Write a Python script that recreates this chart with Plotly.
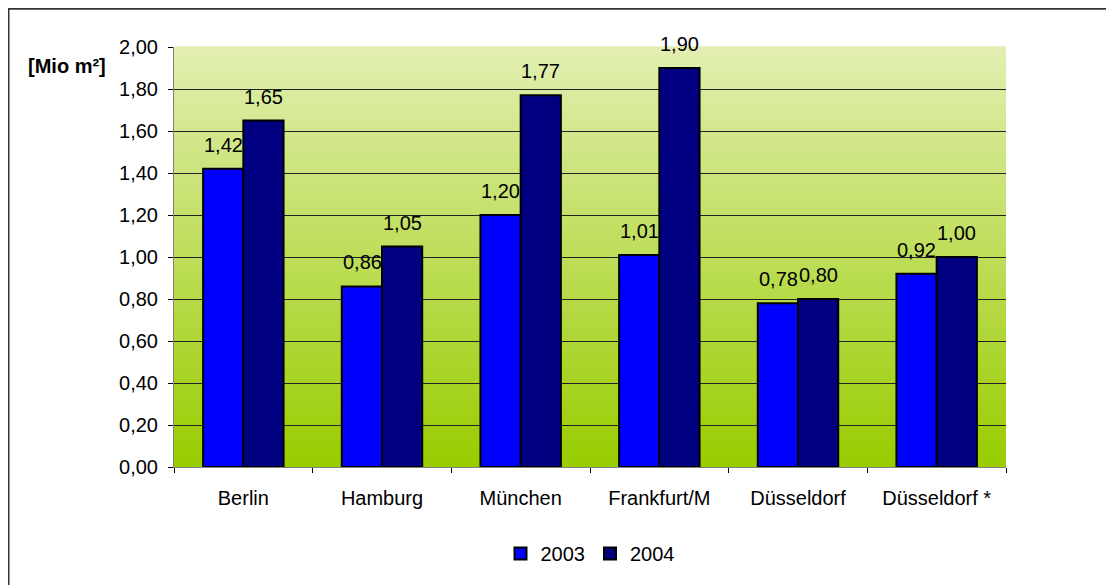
import plotly.graph_objects as go

# Daten
staedte = ['Berlin', 'Hamburg', 'München', 'Frankfurt/M', 'Düsseldorf', 'Düsseldorf *']
werte_2003 = [1.42, 0.86, 1.20, 1.01, 0.78, 0.92]
werte_2004 = [1.65, 1.05, 1.77, 1.90, 0.80, 1.00]
y_ticks = [0.0, 0.2, 0.4, 0.6, 0.8, 1.0, 1.2, 1.4, 1.6, 1.8, 2.0]

# Seite hat 8px Rand -> Figur entsprechend kleiner
W, H = 1106, 577
L, R, T, B = 166, 108, 39, 115
PW, PH = W - L - R, H - T - B
FONT = 'Liberation Sans, Arial, sans-serif'
FS = 20


def px_x(px):
    return (px - L) / PW


def px_y(py):
    return (H - B - py) / PH


fig = go.Figure()
fig.add_trace(go.Bar(x=staedte, y=werte_2003, name='2003',
                     marker=dict(color='#0000FF', line=dict(color='black', width=2))))
fig.add_trace(go.Bar(x=staedte, y=werte_2004, name='2004',
                     marker=dict(color='#000080', line=dict(color='black', width=2))))

# Wertebeschriftungen über den Balken
annots = []
for werte, dx in [(werte_2003, -20), (werte_2004, 20)]:
    for s, v in zip(staedte, werte):
        annots.append(dict(x=s, y=v, xref='x', yref='y', text=f'{v:.2f}'.replace('.', ','),
                           showarrow=False, xshift=dx, yshift=11, yanchor='bottom',
                           font=dict(size=FS, color='black', family=FONT)))

annots.append(dict(x=px_x(59), y=px_y(58), xref='paper', yref='paper', text='<b>[Mio m²]</b>',
                   showarrow=False, xanchor='center', yanchor='middle',
                   font=dict(size=FS, color='black', family=FONT)))

# Verlauf im Plotbereich (hellgrün oben -> grün unten)
shapes = []
top = (226, 239, 178)
bot = (153, 204, 0)
n = 80
for i in range(n):
    t = (i + 0.5) / n
    c = tuple(round(bot[k] + (top[k] - bot[k]) * t) for k in range(3))
    shapes.append(dict(type='rect', xref='paper', yref='paper', x0=0, x1=1,
                       y0=i / n, y1=(i + 1) / n + 0.002, layer='below',
                       fillcolor='rgb(%d,%d,%d)' % c, line=dict(width=0)))

# Rahmen (rechts und unten abgeschnitten)
shapes.append(dict(type='rect', xref='paper', yref='paper', x0=px_x(0.5), x1=px_x(1130),
                   y0=px_y(600), y1=px_y(0.5), line=dict(color='#333333', width=2), layer='above'))

fig.update_layout(
    width=W, height=H,
    margin=dict(l=L, r=R, t=T, b=B),
    paper_bgcolor='white', plot_bgcolor='rgba(0,0,0,0)',
    separators=',.',
    barmode='group', bargap=0.42, bargroupgap=0,
    font=dict(family=FONT, size=FS, color='black'),
    showlegend=True,
    legend=dict(orientation='h', x=0.5, xanchor='center', y=px_y(549), yanchor='middle',
                font=dict(size=FS), itemwidth=30, tracegroupgap=0),
    shapes=shapes, annotations=annots,
    xaxis=dict(showgrid=False, showline=True, linecolor='#808080', linewidth=1,
               ticks='outside', tickson='boundaries', ticklen=5, tickcolor='black',
               ticklabelstandoff=13, fixedrange=True),
    yaxis=dict(range=[0, 2.0], tickvals=y_ticks, tickformat='.2f', showgrid=True,
               gridcolor='#222222', gridwidth=1, showline=True, linecolor='#808080',
               linewidth=1, ticks='outside', ticklen=5, tickcolor='black', zeroline=False,
               ticklabelstandoff=6, fixedrange=True),
)

fig.write_html('out.html')
